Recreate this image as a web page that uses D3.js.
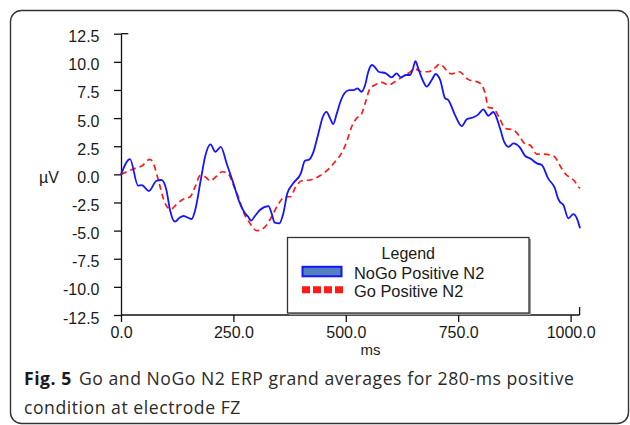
<!DOCTYPE html>
<html>
<head>
<meta charset="utf-8">
<script src="https://cdn.jsdelivr.net/npm/d3@7/dist/d3.min.js"></script>
<style>
  html, body { margin: 0; padding: 0; background: #fff; }
  svg { display: block; }
</style>
</head>
<body>
<svg id="chart" width="630" height="425"></svg>
<script>
// ---- Data ----
const nogoTime = [0,20,38,46,62,79,90,101,109,120,131,139,157,165,178,187,199,210,222,235,250,263,276,283,289,298,309,328,335,342,352,361,370,383,400,409,419,428,439,449,457,465,472,480,488,498,508,517,526,535,543,550,558,565,573,589,602,613,622,634,643,649,655,661,671,680,691,700,710,721,728,743,758,769,784,795,806,817,828,843,852,862,873,887,899,910,925,936,950,965,972,976,984,995,1006,1014,1021];
const nogoValue = [0,1.36,-1.0,-0.95,-1.48,-0.57,-0.5,-1.4,-3.17,-4.21,-3.83,-3.7,-3.97,-3.17,-0.36,1.57,2.67,2.0,2.45,0.97,-0.8,-2.43,-3.47,-3.77,-4.12,-3.7,-3.17,-2.82,-3.47,-4.3,-4.36,-3.47,-1.69,-0.8,0.09,1.2,1.33,2.0,3.64,5.12,5.56,4.98,4.47,5.42,6.45,7.25,7.49,7.49,7.64,7.34,7.94,9.12,9.72,9.51,9.12,8.98,8.62,8.98,8.62,8.83,8.83,9.33,10.07,9.42,8.38,7.8,8.38,8.92,8.38,6.75,6.6,5.27,4.29,4.89,5.07,5.33,5.78,5.21,5.54,4.09,2.9,2.45,2.76,2.4,1.63,1.42,0.98,0.83,-0.36,-1.24,-2.13,-2.43,-2.73,-3.91,-3.53,-3.91,-4.8];

const goTime = [0,31,46,64,72,83,98,111,124,139,154,165,176,187,198,213,225,239,250,262,272,287,302,313,324,335,350,365,377,388,402,420,443,461,476,491,502,513,524,535,543,554,565,580,595,609,624,639,654,669,684,702,708,735,752,772,797,810,817,828,843,854,873,887,899,910,925,939,962,980,991,1002,1010,1014,1021];
const goValue = [0,0.53,0.74,1.33,0.98,-0.5,-2.58,-3.11,-2.64,-2.2,-1.99,-1.1,-0.12,-0.21,-0.57,-0.15,0.23,0.03,-0.95,-2.13,-3.32,-4.36,-5.0,-4.89,-4.5,-3.77,-2.64,-1.99,-1.99,-1.16,-0.57,-0.5,-0.1,0.44,1.12,1.9,2.9,4.23,4.98,5.36,6.31,7.64,7.94,8.18,7.94,8.23,8.62,8.98,9.36,9.12,9.12,9.6,9.8,8.92,9.12,8.44,8.14,7.2,5.95,5.87,4.89,4.09,3.94,3.34,2.69,2.6,1.8,1.8,1.63,0.53,-0.06,-0.36,-0.66,-0.95,-1.24];

const yTicks = [12.5,10.0,7.5,5.0,2.5,0.0,-2.5,-5.0,-7.5,-10.0,-12.5];
const xTicks = [0,250,500,750,1000];
const seriesNames = ["NoGo Positive N2","Go Positive N2"];
const legendTitle = "Legend";
const yLabel = "µV";
const xLabel = "ms";
const captionBold = "Fig. 5";
const captionLine1 = "Go and NoGo N2 ERP grand averages for 280-ms positive";
const captionLine2 = "condition at electrode FZ";

// ---- Drawing ----
const svg = d3.select("#chart");
const font = "'Liberation Sans', Arial, sans-serif";
const fmt = d => d.toFixed(1);   // plain hyphen-minus like the reference

// outer rounded frame
svg.append("rect")
  .attr("x", 10.5).attr("y", 10.5).attr("width", 618).attr("height", 413)
  .attr("rx", 11).attr("ry", 11)
  .attr("fill", "none").attr("stroke", "#333").attr("stroke-width", 1.4);

const x = d3.scaleLinear().domain([0, 1000]).range([121, 570.6]);
const y = d3.scaleLinear().domain([-12.5, 12.5]).range([315, 33.7]);
const xMax = 1020;

// Y axis
const yAxis = d3.axisLeft(y).tickValues(yTicks).tickSize(7).tickSizeOuter(0)
  .tickFormat(fmt);
const gy = svg.append("g").attr("transform", "translate(121,0)").call(yAxis);
gy.select(".domain").attr("stroke", "#111").attr("stroke-width", 1.3);
gy.selectAll(".tick line").attr("stroke", "#111").attr("stroke-width", 1.3);
gy.selectAll(".tick text")
  .attr("x", -21.5).attr("dy", "0.5em")
  .attr("font-family", font).attr("font-size", 16).attr("fill", "#1a1a1a");
// top end cap extends to the right
svg.append("line").attr("x1", 121).attr("x2", 128.3)
  .attr("y1", y(12.5)).attr("y2", y(12.5))
  .attr("stroke", "#111").attr("stroke-width", 1.3);

// X axis
const xAxis = d3.axisBottom(x).tickValues(xTicks).tickSize(7).tickSizeOuter(0)
  .tickFormat(fmt);
const gx = svg.append("g").attr("transform", "translate(0,315)").call(xAxis);
gx.select(".domain").attr("d", `M${x(0)},0H${x(xMax)}`)
  .attr("stroke", "#111").attr("stroke-width", 1.3);
gx.selectAll(".tick line").attr("stroke", "#111").attr("stroke-width", 1.3);
gx.selectAll(".tick text")
  .attr("y", 12).attr("dy", "0.71em")
  .attr("font-family", font).attr("font-size", 16).attr("fill", "#1a1a1a");
// right end cap pointing up
svg.append("line").attr("x1", x(xMax)).attr("x2", x(xMax))
  .attr("y1", 307).attr("y2", 315)
  .attr("stroke", "#111").attr("stroke-width", 1.3);

// axis titles
svg.append("text").attr("x", 39).attr("y", 182.5)
  .attr("font-family", font).attr("font-size", 16).attr("fill", "#1a1a1a")
  .text(yLabel);
svg.append("text").attr("x", 370.5).attr("y", 355).attr("text-anchor", "middle")
  .attr("font-family", font).attr("font-size", 15).attr("fill", "#1a1a1a")
  .text(xLabel);

// lines
const line = d3.line()
  .x(d => x(d[0])).y(d => y(d[1]))
  .curve(d3.curveMonotoneX);

const goData = goTime.map((t, i) => [t, goValue[i]]);
const nogoData = nogoTime.map((t, i) => [t, nogoValue[i]]);

svg.append("path").datum(goData).attr("d", line)
  .attr("fill", "none").attr("stroke", "#ff1a1a").attr("stroke-width", 1.7)
  .attr("stroke-dasharray", "6,4");
svg.append("path").datum(nogoData).attr("d", line)
  .attr("fill", "none").attr("stroke", "#1515ff").attr("stroke-width", 1.8);

// legend
const lg = svg.append("g");
lg.append("rect").attr("x", 289).attr("y", 239).attr("width", 242).attr("height", 76)
  .attr("fill", "#9a9a9a");
lg.append("rect").attr("x", 287.5).attr("y", 237.5).attr("width", 241.5).attr("height", 75.5)
  .attr("fill", "#fff").attr("stroke", "#333").attr("stroke-width", 1.3);
lg.append("text").attr("x", 408.3).attr("y", 258.5).attr("text-anchor", "middle")
  .attr("font-family", font).attr("font-size", 16).attr("fill", "#1a1a1a")
  .text(legendTitle);
lg.append("rect").attr("x", 302.5).attr("y", 266.8).attr("width", 39).attr("height", 9.5)
  .attr("fill", "#5580c0").attr("stroke", "#1515ff").attr("stroke-width", 2);
lg.append("line").attr("x1", 302).attr("x2", 343).attr("y1", 289.7).attr("y2", 289.7)
  .attr("stroke", "#ff1a1a").attr("stroke-width", 7).attr("stroke-dasharray", "8,3");
lg.append("text").attr("x", 354).attr("y", 278.5)
  .attr("font-family", font).attr("font-size", 16.4).attr("fill", "#1a1a1a")
  .text(seriesNames[0]);
lg.append("text").attr("x", 354).attr("y", 297)
  .attr("font-family", font).attr("font-size", 16.4).attr("fill", "#1a1a1a")
  .text(seriesNames[1]);

// caption
const capFont = "'Open Sans', 'Noto Sans', sans-serif";
const capSize = 17.6;
const c1 = svg.append("text").attr("x", 24).attr("y", 385)
  .attr("font-family", capFont).attr("font-size", capSize).attr("fill", "#2a2a2a");
c1.append("tspan").attr("font-weight", "bold").attr("fill", "#1a1a1a").text(captionBold);
c1.append("tspan").attr("dx", 7).text(captionLine1);
const c2 = svg.append("text").attr("x", 24).attr("y", 414)
  .attr("font-family", capFont).attr("font-size", capSize).attr("fill", "#2a2a2a")
  .text(captionLine2);
// fit line 1 to its measured width in the reference (24 -> 568)
const target = 544;
const len = c1.node().getComputedTextLength();
const nChars = (captionBold + captionLine1).length + 1;
const ls = Math.max(-1, Math.min(1, (target - len) / nChars));
c1.attr("letter-spacing", ls);
c2.attr("letter-spacing", ls);
</script>
</body>
</html>
